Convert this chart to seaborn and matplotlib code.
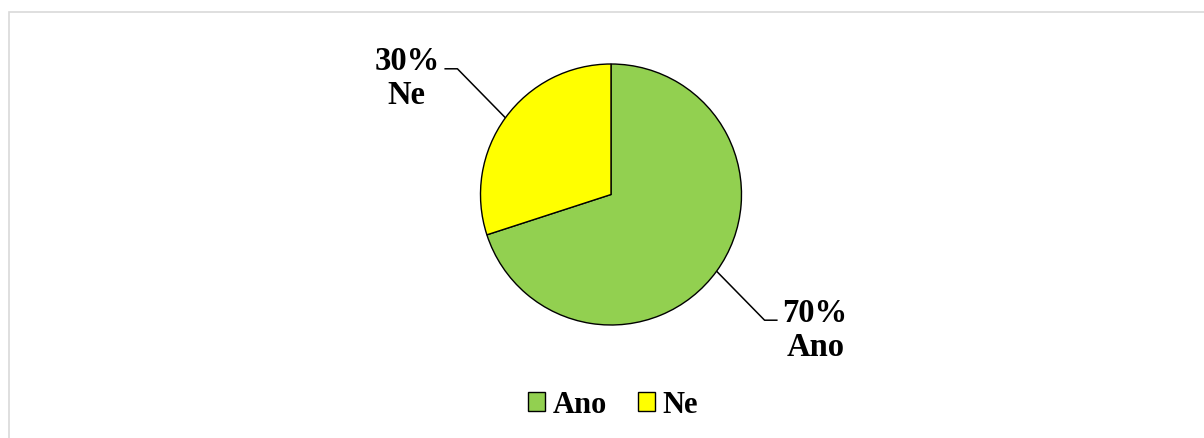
import numpy as np
import matplotlib
matplotlib.use("Agg")
import matplotlib.pyplot as plt
import matplotlib.patches as mpatches
import seaborn as sns

categories = ["Ano", "Ne"]
values = [70, 30]
colors = ["#92D050", "#FFFF00"]

sns.set_theme(style="white")
plt.rcParams['font.family'] = ['Liberation Serif', 'DejaVu Serif']
plt.rcParams['text.color'] = 'black'

W, H = 1204, 439
fig = plt.figure(figsize=(W / 100, H / 100), dpi=100)
ax = fig.add_axes([0, 0, 1, 1])

cx, cy, r = 611, H - 195.5, 130.5
wedges, _ = ax.pie(values, colors=colors, startangle=90, counterclock=False,
                   center=(cx, cy), radius=r,
                   wedgeprops=dict(edgecolor="black", linewidth=1.0))
ax.set_xlim(0, W)
ax.set_ylim(0, H)
ax.set_aspect('auto')
ax.axis('off')

total = sum(values)
for w, cat, v in zip(wedges, categories, values):
    mid = np.deg2rad((w.theta1 + w.theta2) / 2)
    c, s = np.cos(mid), np.sin(mid)
    x0, y0 = cx + r * c, cy + r * s
    side = 1 if c > 0 else -1
    vside = 1 if s > 0 else -1
    x1, y1 = x0 + side * 48, y0 + vside * 49
    x2 = x1 + side * 13
    ax.plot([x0, x1, x2], [y0, y1, y1], color="black", lw=1.1, solid_capstyle='butt')
    ax.text(x2 + side * 5, y1 - 9, f"{round(100 * v / total)}%\n{cat}",
            ha='left' if side > 0 else 'right', va='center', multialignment='center',
            fontsize=23.5, fontweight='bold', color='black', linespacing=1.12)

leg = fig.legend(wedges, categories, loc='center', bbox_to_anchor=(613 / W, 1 - 406 / H),
                 ncol=2, frameon=False, prop=dict(size=22, weight='bold'),
                 handlelength=0.56, handleheight=0.56, handletextpad=0.25,
                 columnspacing=1.0, labelcolor='black')

border = mpatches.Rectangle((8.5 / W, -0.1), 2, 1.1 - 13 / H, transform=fig.transFigure,
                            fill=False, edgecolor="#d9d9d9", lw=1.2)
fig.patches.append(border)

fig.savefig("out.png", dpi=100)
